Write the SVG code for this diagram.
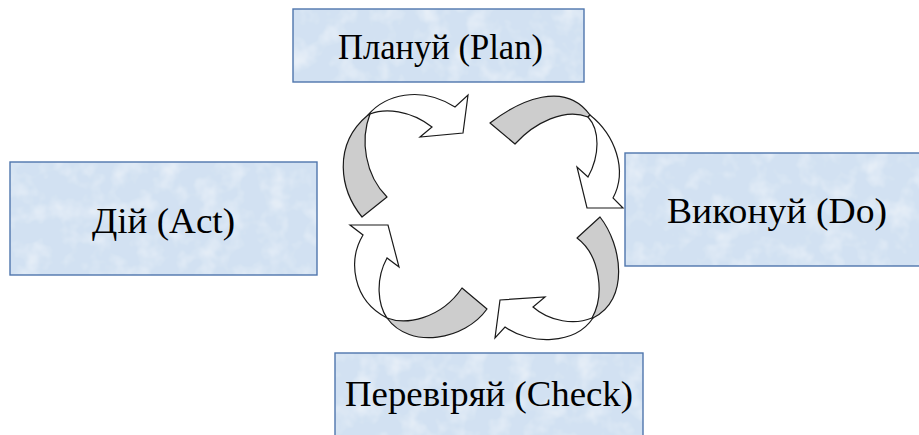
<svg xmlns="http://www.w3.org/2000/svg" width="919" height="435" viewBox="0 0 919 435">
  <defs>
    <filter id="tex" x="0" y="0" width="100%" height="100%">
      <feTurbulence type="fractalNoise" baseFrequency="0.045" numOctaves="3" seed="4" result="n"/>
      <feColorMatrix in="n" type="matrix" values="0 0 0 0 1  0 0 0 0 1  0 0 0 0 1  0 0 0 1.0 -0.45" result="w"/>
      <feComposite in="w" in2="SourceGraphic" operator="in" result="wm"/>
      <feMerge><feMergeNode in="SourceGraphic"/><feMergeNode in="wm"/></feMerge>
    </filter>
  </defs>
  <style>
    .fill { fill: #d2e1f2; }
    .box { fill: none; stroke: #4f76ad; stroke-width: 1.4; }
    .lbl { font-family: "Liberation Serif", "Times New Roman", serif; font-size: 36px; fill: #000; text-anchor: middle; }
    .back { fill: #cdcdcd; stroke: #1a1a1a; stroke-width: 1.2; stroke-linejoin: round; }
    .front { fill: #ffffff; stroke: #1a1a1a; stroke-width: 1.2; stroke-linejoin: miter; }
  </style>
  <rect width="919" height="435" fill="#ffffff"/>

  <g id="connectors">
    <g id="arrow-act-plan">
      <path class="back" d="M362,217 C340,190 332,145 368,115 L370,114 C360,140 365,175 387,197 Z"/>
      <path class="front" d="M368,115 C385,95 420,85 455,107 L468,95 L463,133 L420,137 L432,127 C410,110 385,108 370,114 Z"/>
    </g>
    <g id="arrow-plan-do">
      <path class="back" d="M490,123 C520,100 565,80 590,115 L588,117 C565,108 535,122 515,144 Z"/>
      <path class="front" d="M590,115 C615,135 628,170 613,198 L623,208 L587,208 L577,167 L588,177 C600,155 600,130 588,117 Z"/>
    </g>
    <g id="arrow-do-check">
      <path class="back" d="M600,217 C622,245 630,300 593,318 L592,318 C605,295 600,255 577,238 Z"/>
      <path class="front" d="M593,318 C575,345 530,345 505,327 L495,338 L500,300 L545,297 L533,307 C550,322 575,325 592,318 Z"/>
    </g>
    <g id="arrow-check-act">
      <path class="back" d="M487,309 C465,340 410,350 387,318 C405,325 440,320 462,288 Z"/>
      <path class="front" d="M387,318 C352,300 348,260 363,235 L350,225 L388,225 L399,267 L387,258 C375,280 378,305 387,318 Z"/>
    </g>
  </g>

  <g id="plan">
    <rect class="fill" x="293" y="9" width="291" height="73" filter="url(#tex)"/>
    <rect class="box" x="293" y="9" width="291" height="73"/>
    <text class="lbl" x="440.5" y="59" textLength="205" lengthAdjust="spacingAndGlyphs">Плануй (Plan)</text>
  </g>
  <g id="act">
    <rect class="fill" x="10" y="162" width="307" height="113" filter="url(#tex)"/>
    <rect class="box" x="10" y="162" width="307" height="113"/>
    <text class="lbl" x="163.5" y="233" textLength="143" lengthAdjust="spacingAndGlyphs">Дій (Act)</text>
  </g>
  <g id="do">
    <rect class="fill" x="625" y="153" width="300" height="113" filter="url(#tex)"/>
    <rect class="box" x="625" y="153" width="300" height="113"/>
    <text class="lbl" x="777" y="223" textLength="220" lengthAdjust="spacingAndGlyphs">Виконуй (Do)</text>
  </g>
  <g id="check">
    <rect class="fill" x="335" y="353" width="308" height="100" filter="url(#tex)"/>
    <rect class="box" x="335" y="353" width="308" height="100"/>
    <text class="lbl" x="489" y="406" textLength="288" lengthAdjust="spacingAndGlyphs">Перевіряй (Check)</text>
  </g>
</svg>
